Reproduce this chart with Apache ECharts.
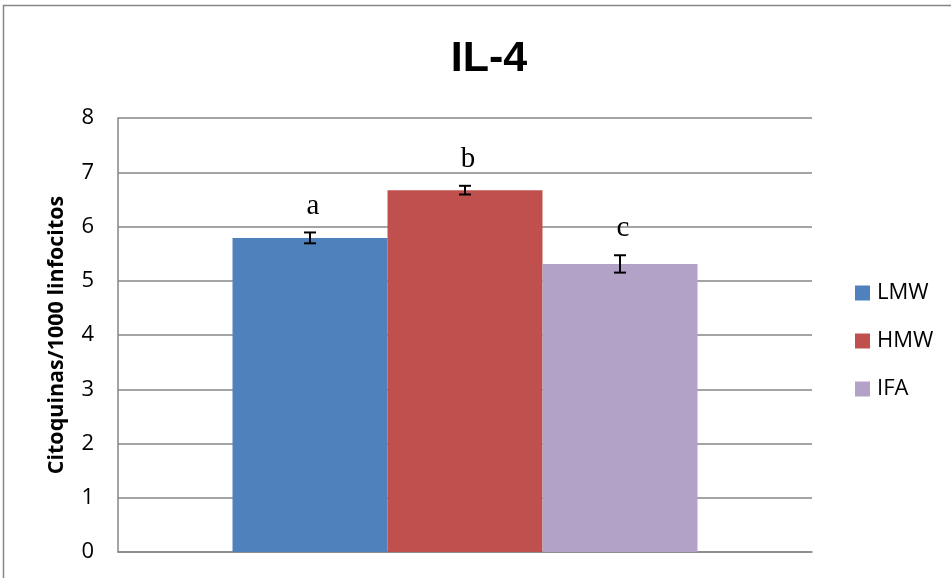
<!DOCTYPE html>
<html>
<head>
<meta charset="utf-8">
<script src="https://cdn.jsdelivr.net/npm/echarts@6/dist/echarts.min.js"></script>
<style>html,body{margin:0;padding:0;background:#fff}#c{width:951px;height:578px}</style>
</head>
<body>
<div id="c"></div>
<script>
var categories = ['IL-4'];
var seriesNames = ['LMW', 'HMW', 'IFA'];
var seriesValues = [5.79, 6.67, 5.31];
var errorValues = [0.10, 0.08, 0.16];
var letters = ['a', 'b', 'c'];
var colors = ['#4F81BD', '#C0504D', '#B2A2C7'];
var yTicks = [0, 1, 2, 3, 4, 5, 6, 7, 8];

var chart = echarts.init(document.getElementById('c'), null, {renderer: 'canvas'});
var GAP = 0.33;

var series = seriesNames.map(function (n, i) {
  return {
    name: n, type: 'bar', data: [seriesValues[i]],
    barGap: '0%', barCategoryGap: (GAP * 100) + '%',
    itemStyle: {color: colors[i]}, z: 2
  };
});

seriesNames.forEach(function (n, i) {
  series.push({
    type: 'custom', name: n + '_err', z: 5,
    data: [[0, seriesValues[i], errorValues[i]]],
    renderItem: function (params, api) {
      var v = api.value(1), e = api.value(2);
      var c = api.coord([0, v]);
      var bandW = api.size([1, 0])[0];
      var groupW = bandW * (1 - GAP);
      var bw = groupW / seriesNames.length;
      var x = c[0] - groupW / 2 + bw * (i + 0.5);
      var top = api.coord([0, v + e])[1];
      var bot = api.coord([0, v - e])[1];
      var cap = 6;
      var st = {stroke: '#000', lineWidth: 2};
      return {
        type: 'group',
        children: [
          {type: 'line', shape: {x1: x, y1: top, x2: x, y2: bot}, style: st},
          {type: 'line', shape: {x1: x - cap, y1: top, x2: x + cap, y2: top}, style: st},
          {type: 'line', shape: {x1: x - cap, y1: bot, x2: x + cap, y2: bot}, style: st},
          {type: 'text', style: {text: letters[i], x: x + 3, y: top - 12, textAlign: 'center', textVerticalAlign: 'bottom',
            font: '29px "Liberation Serif", "Times New Roman", serif', fill: '#000'}}
        ]
      };
    }
  });
});

chart.setOption({
  animation: false,
  backgroundColor: '#fff',
  title: {
    text: 'IL-4', left: 484, top: 33, textAlign: 'center',
    textStyle: {fontFamily: '"Liberation Sans", Arial, sans-serif', fontWeight: 'bold', fontSize: 43, color: '#000'}
  },
  graphic: [{
    type: 'rect', shape: {x: 3.5, y: 5.5, width: 1000, height: 1000},
    style: {fill: 'none', stroke: '#868686', lineWidth: 1.5}, silent: true, z: -1
  }],
  legend: {
    orient: 'vertical', left: 850, top: 276,
    data: seriesNames, itemWidth: 15, itemHeight: 15, itemGap: 24,
    icon: 'rect',
    textStyle: {fontFamily: '"Open Sans", "Liberation Sans", sans-serif', fontSize: 22, color: '#000', padding: [0, 0, 0, 2], lineHeight: 24}
  },
  grid: {left: 118, right: 139, top: 118, bottom: 26, containLabel: false},
  xAxis: {
    type: 'category', data: categories,
    axisLine: {show: true, lineStyle: {color: '#868686', width: 1.5}},
    axisTick: {show: false}, axisLabel: {show: false}
  },
  yAxis: {
    type: 'value', min: yTicks[0], max: yTicks[yTicks.length - 1], interval: 1,
    name: 'Citoquinas/1000 linfocitos', nameLocation: 'middle', nameGap: 50,
    nameTextStyle: {fontFamily: '"Open Sans", "Liberation Sans", sans-serif', fontWeight: 'bold', fontSize: 21.5, color: '#000'},
    axisLine: {show: true, lineStyle: {color: '#868686', width: 1.5}},
    axisTick: {show: false},
    axisLabel: {margin: 24, fontFamily: '"Open Sans", "Liberation Sans", sans-serif', fontSize: 22, color: '#000'},
    splitLine: {show: true, lineStyle: {color: '#868686', width: 1.5}}
  },
  series: series
});
</script>
</body>
</html>
